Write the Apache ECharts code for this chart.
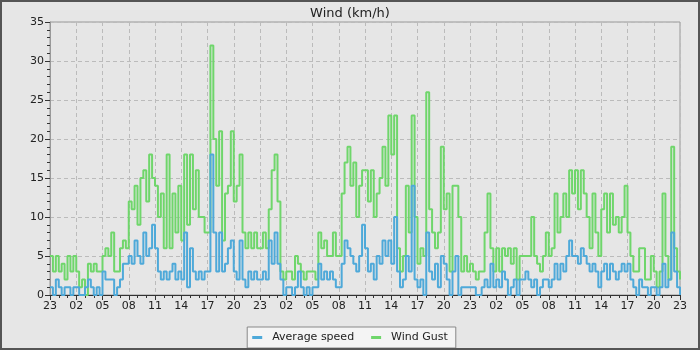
<!DOCTYPE html>
<html>
<head>
<meta charset="utf-8">
<script src="https://cdn.jsdelivr.net/npm/echarts@6/dist/echarts.min.js"></script>
<style>
  body { margin: 0; }
  #wrap { position: relative; width: 700px; height: 350px; }
  #Wind { width: 700px; height: 350px; }
  #frame { position: absolute; left: 0; top: 0; width: 700px; height: 350px; box-sizing: border-box; border: 2px solid #555; pointer-events: none; }
</style>
</head>
<body>
<div id="wrap">
  <div id="Wind"></div>
  <div id="frame"></div>
</div>
<script>
// x labels, one every 3 hours starting at 23:00
var hourLabels = ['23','02','05','08','11','14','17','20','23','02','05','08','11','14','17','20','23','02','05','08','11','14','17','20','23'];
// readings every 20 minutes (km/h)
var avgSpeed = [
  1,0,2,1,0,1,1,0,1,1,0,0,1,2,1,0,1,0,3,2,2,2,0,1,2,4,4,5,4,7,5,4,8,5,6,9,
  6,3,2,3,2,3,4,2,3,2,8,1,6,3,2,3,2,3,3,18,8,3,8,3,4,6,7,3,2,7,2,1,3,2,3,2,
  2,3,2,7,4,8,4,2,0,1,1,0,1,3,1,0,1,0,1,1,4,2,3,2,3,2,1,1,4,7,6,5,4,3,5,9,
  6,3,4,2,5,4,7,5,7,4,10,3,1,2,5,3,14,2,1,2,0,8,3,2,4,1,5,4,2,0,3,5,0,1,1,1,
  1,1,0,0,1,2,1,4,1,2,1,3,2,0,1,2,0,2,2,3,2,1,2,0,1,2,2,1,2,4,2,4,3,5,7,5,
  5,4,6,5,4,3,4,3,1,3,4,2,4,3,2,3,4,3,4,2,1,0,2,1,1,0,1,1,0,1,4,1,2,8,3,1,0
];
var windGust = [
  5,3,5,3,4,2,5,3,5,3,1,2,0,4,3,4,3,3,5,6,5,8,3,3,6,7,6,12,11,14,9,15,16,12,18,15,
  14,10,13,6,18,6,13,8,14,7,18,9,18,11,16,10,10,8,8,32,20,14,21,7,13,14,21,12,14,18,8,6,8,6,8,6,
  6,8,6,11,16,18,12,3,2,3,3,2,5,4,3,2,3,3,3,2,8,6,7,5,5,8,5,5,13,17,19,14,17,10,14,16,
  16,12,16,10,13,15,19,14,23,18,23,6,3,5,14,8,23,10,4,6,5,26,11,8,6,8,19,11,13,3,14,14,10,3,5,3,
  4,3,2,3,3,8,13,6,3,6,3,6,5,6,4,6,2,5,5,5,5,10,5,4,3,5,8,5,6,13,8,10,13,10,16,13,
  16,11,16,13,10,6,13,8,5,11,13,8,13,9,10,8,10,14,8,5,3,3,6,6,2,2,5,3,1,3,13,5,2,19,6,3,2
];

function toPoints(values) {
  return values.map(function (v, i) { return [i / 3, v]; });
}

var font = 'DejaVu Sans';
var chart = echarts.init(document.getElementById('Wind'));
chart.setOption({
  backgroundColor: '#e6e6e6',
  animation: false,
  title: {
    text: 'Wind (km/h)',
    left: 'center',
    top: 2,
    textStyle: { fontFamily: font, fontSize: 13, fontWeight: 'normal', color: '#222' }
  },
  legend: {
    bottom: 2,
    left: 'center',
    backgroundColor: '#f4f4f4',
    borderColor: '#888',
    borderWidth: 1,
    borderRadius: 0,
    padding: [5, 8, 5, 5],
    itemGap: 17,
    itemWidth: 10,
    itemHeight: 3,
    icon: 'rect',
    textStyle: { fontFamily: font, fontSize: 11, color: '#222', padding: [0, 0, 0, 5] },
    data: ['Average speed', 'Wind Gust']
  },
  grid: {
    left: 50, right: 20, top: 22, bottom: 55,
    show: true,
    backgroundColor: '#e6e6e6',
    borderColor: '#999',
    borderWidth: 1
  },
  xAxis: {
    type: 'value',
    min: 0, max: 72, interval: 3,
    axisLine: { show: true, lineStyle: { color: '#333' } },
    axisTick: { show: true, length: 5, lineStyle: { color: '#333' } },
    minorTick: { show: true, splitNumber: 3, length: 3, lineStyle: { color: '#333' } },
    axisLabel: {
      fontFamily: font, fontSize: 11, color: '#222', margin: 6,
      formatter: function (v) { return hourLabels[Math.round(v / 3)]; }
    },
    splitLine: { show: true, lineStyle: { type: [4, 3], color: '#bbb' } }
  },
  yAxis: {
    type: 'value',
    min: 0, max: 35, interval: 5,
    axisLine: { show: true, lineStyle: { color: '#999' } },
    axisTick: { show: true, length: 5, lineStyle: { color: '#333' } },
    minorTick: { show: true, splitNumber: 5, length: 3, lineStyle: { color: '#333' } },
    axisLabel: { fontFamily: font, fontSize: 11, color: '#222', margin: 6 },
    splitLine: { show: true, lineStyle: { type: [4, 3], color: '#bbb' } }
  },
  series: [
    {
      name: 'Average speed',
      type: 'line',
      step: 'end',
      showSymbol: false,
      z: 3,
      color: '#4ea9d9',
      lineStyle: { width: 2 },
      data: toPoints(avgSpeed)
    },
    {
      name: 'Wind Gust',
      type: 'line',
      step: 'end',
      showSymbol: false,
      z: 2,
      color: '#6fd66b',
      lineStyle: { width: 2 },
      data: toPoints(windGust)
    }
  ]
});
</script>
</body>
</html>
